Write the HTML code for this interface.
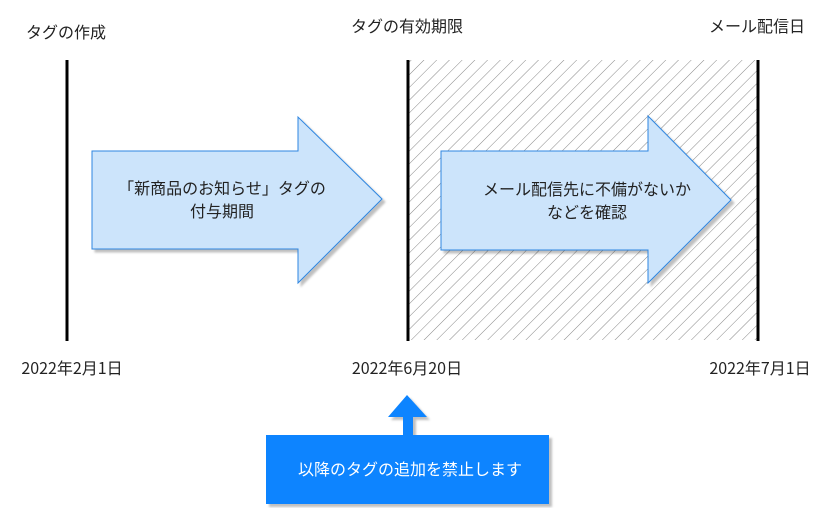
<!DOCTYPE html>
<html><head><meta charset="utf-8"><style>
body{margin:0;background:#fff;}
svg text{font-family:"Noto Sans CJK JP",sans-serif;font-size:16px;fill:#222;}
</style></head><body>
<svg width="825" height="508" viewBox="0 0 825 508" xmlns="http://www.w3.org/2000/svg">
<defs>
<pattern id="h" patternUnits="userSpaceOnUse" width="9" height="9" patternTransform="rotate(45)">
<line x1="0" y1="0" x2="0" y2="9" stroke="#888" stroke-width="1"/>
</pattern>
<filter id="s" x="-10%" y="-10%" width="130%" height="130%"><feDropShadow dx="3" dy="3" stdDeviation="1" flood-color="#000" flood-opacity="0.25"/></filter>
</defs>
<rect x="408" y="60" width="350" height="280" fill="url(#h)"/>
<line x1="67" y1="60" x2="67" y2="341" stroke="#000" stroke-width="3"/>
<line x1="408" y1="60" x2="408" y2="341" stroke="#000" stroke-width="3"/>
<line x1="758" y1="60" x2="758" y2="341" stroke="#000" stroke-width="3"/>
<text x="26" y="38">タグの作成</text>
<text x="407" y="32" text-anchor="middle">タグの有効期限</text>
<text x="757" y="32" text-anchor="middle">メール配信日</text>
<text x="72" y="374" text-anchor="middle">2022年2月1日</text>
<text x="407" y="374" text-anchor="middle">2022年6月20日</text>
<text x="760" y="374" text-anchor="middle">2022年7月1日</text>
<polygon points="92,151 298,151 298,117 382,199 298,283 298,249 92,249" fill="#cce4fb" stroke="#2f86e0" stroke-width="1" filter="url(#s)"/>
<text x="222" y="194" text-anchor="middle">「新商品のお知らせ」タグの</text>
<text x="222" y="217" text-anchor="middle">付与期間</text>
<polygon points="441,151 648,151 648,116 731,200 648,283 648,250 441,250" fill="#cce4fb" stroke="#2f86e0" stroke-width="1" filter="url(#s)"/>
<text x="587" y="195" text-anchor="middle">メール配信先に不備がないか</text>
<text x="587" y="218" text-anchor="middle">などを確認</text>
<g filter="url(#s)">
<polygon points="407,395 427,417 413,417 413,436 403,436 403,417 388,417" fill="#0a84ff"/>
<rect x="266" y="435" width="283" height="69" fill="#0a84ff"/>
</g>
<text x="410" y="475" text-anchor="middle" style="fill:#fff">以降のタグの追加を禁止します</text>
</svg>
</body></html>
